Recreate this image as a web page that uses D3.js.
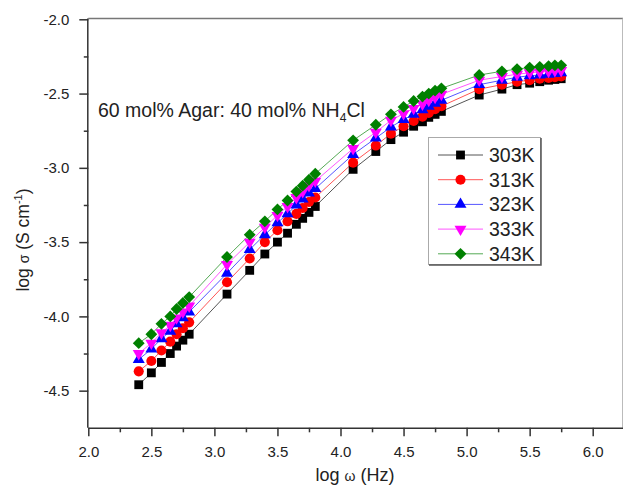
<!DOCTYPE html>
<html>
<head>
<meta charset="utf-8">
<script src="https://cdn.jsdelivr.net/npm/d3@7"></script>
<style>
  body { margin: 0; background: #fff; }
  svg { font-family: Arial, "Liberation Sans", sans-serif; }
</style>
</head>
<body>
<svg id="chart" width="624" height="488"></svg>
<script>
// log w values (Hz) shared by all series
const logW = [2.40, 2.50, 2.58, 2.65, 2.70, 2.75, 2.80,
  3.10, 3.28, 3.40, 3.50, 3.58, 3.65, 3.70, 3.75, 3.80,
  4.10, 4.28, 4.40, 4.50, 4.58, 4.65, 4.70, 4.75, 4.80,
  5.10, 5.28, 5.40, 5.50, 5.58, 5.65, 5.70, 5.75];

const s303 = [-4.46, -4.38, -4.31, -4.25, -4.20, -4.16, -4.12,
  -3.85, -3.69, -3.58, -3.50, -3.44, -3.38, -3.34, -3.30, -3.26,
  -3.01, -2.89, -2.81, -2.76, -2.72, -2.69, -2.66, -2.64, -2.62,
  -2.51, -2.47, -2.44, -2.43, -2.42, -2.41, -2.405, -2.40];
const s313 = [-4.37, -4.30, -4.23, -4.17, -4.12, -4.08, -4.04,
  -3.77, -3.61, -3.50, -3.42, -3.36, -3.31, -3.27, -3.23, -3.20,
  -2.965, -2.85, -2.77, -2.72, -2.685, -2.655, -2.63, -2.605, -2.585,
  -2.47, -2.44, -2.42, -2.41, -2.40, -2.395, -2.39, -2.385];
const s323 = [-4.29, -4.22, -4.15, -4.10, -4.05, -4.01, -3.97,
  -3.71, -3.55, -3.45, -3.37, -3.31, -3.25, -3.21, -3.17, -3.14,
  -2.91, -2.80, -2.725, -2.675, -2.64, -2.61, -2.585, -2.565, -2.545,
  -2.44, -2.41, -2.39, -2.38, -2.375, -2.37, -2.365, -2.36];
const s333 = [-4.25, -4.18, -4.11, -4.06, -4.01, -3.97, -3.93,
  -3.65, -3.50, -3.40, -3.32, -3.26, -3.20, -3.16, -3.12, -3.09,
  -2.87, -2.76, -2.68, -2.635, -2.60, -2.57, -2.545, -2.525, -2.505,
  -2.41, -2.385, -2.37, -2.36, -2.355, -2.35, -2.345, -2.345];
const s343 = [-4.18, -4.12, -4.05, -4.00, -3.95, -3.91, -3.87,
  -3.60, -3.45, -3.36, -3.28, -3.22, -3.16, -3.12, -3.08, -3.04,
  -2.815, -2.71, -2.64, -2.59, -2.55, -2.52, -2.50, -2.48, -2.465,
  -2.375, -2.35, -2.335, -2.325, -2.32, -2.315, -2.31, -2.31];

const seriesNames = ["303K", "313K", "323K", "333K", "343K"];
const xTicks = [2.0, 2.5, 3.0, 3.5, 4.0, 4.5, 5.0, 5.5, 6.0];
const yTicks = [-4.5, -4.0, -3.5, -3.0, -2.5, -2.0];

const series = [
  { name: seriesNames[0], values: s303, color: "#000000", line: "#555555", shape: "square" },
  { name: seriesNames[1], values: s313, color: "#ff0000", line: "#ff5555", shape: "circle" },
  { name: seriesNames[2], values: s323, color: "#0000ff", line: "#5555ff", shape: "up" },
  { name: seriesNames[3], values: s333, color: "#ff00ff", line: "#ff55ff", shape: "down" },
  { name: seriesNames[4], values: s343, color: "#008000", line: "#55aa55", shape: "diamond" }
];

const svg = d3.select("#chart");
const plotL = 88.3, plotR = 623, plotT = 18.5, plotB = 427.8;

const x = d3.scaleLinear().domain([2.0, 6.0]).range([plotL, 592.7]);
const y = d3.scaleLinear().domain([-4.75, -2.0]).range([plotB, 19.3]);
const fmt = d => d.toFixed(1); // plain hyphen minus, as in the figure

// frame (top and right)
svg.append("line").attr("x1", plotL).attr("x2", plotR).attr("y1", plotT).attr("y2", plotT)
  .attr("stroke", "#777").attr("stroke-width", 1.5);
svg.append("line").attr("x1", plotR - 0.5).attr("x2", plotR - 0.5).attr("y1", plotT).attr("y2", plotB)
  .attr("stroke", "#bbb").attr("stroke-width", 1);

// minor ticks
const xMinor = [2.25, 2.75, 3.25, 3.75, 4.25, 4.75, 5.25, 5.75];
const yMinor = [-4.25, -3.75, -3.25, -2.75, -2.25];
svg.append("g").attr("transform", `translate(0,${plotB})`)
  .call(d3.axisBottom(x).tickValues(xMinor).tickSize(4.5).tickFormat(""))
  .call(g => g.select(".domain").remove())
  .selectAll("line").attr("stroke", "#333").attr("stroke-width", 1.5);
svg.append("g").attr("transform", `translate(${plotL},0)`)
  .call(d3.axisLeft(y).tickValues(yMinor).tickSize(4.5).tickFormat(""))
  .call(g => g.select(".domain").remove())
  .selectAll("line").attr("stroke", "#333").attr("stroke-width", 1.5);

// major axes
const xAxis = svg.append("g").attr("transform", `translate(0,${plotB})`)
  .call(d3.axisBottom(x).tickValues(xTicks).tickSize(8.5).tickPadding(10).tickSizeOuter(0).tickFormat(fmt));
xAxis.select(".domain").attr("d", `M${plotL},0.5H${plotR}`).attr("stroke", "#333").attr("stroke-width", 1.5);
xAxis.selectAll("line").attr("stroke", "#333").attr("stroke-width", 1.5);
xAxis.selectAll("text").attr("font-size", 15).attr("fill", "#222").attr("font-family", "Arial, 'Liberation Sans', sans-serif");

const yAxis = svg.append("g").attr("transform", `translate(${plotL},0)`)
  .call(d3.axisLeft(y).tickValues(yTicks).tickSize(9).tickPadding(10).tickSizeOuter(0).tickFormat(fmt));
yAxis.select(".domain").attr("d", `M-0.5,${plotT}V${plotB}`).attr("stroke", "#333").attr("stroke-width", 1.5);
yAxis.selectAll("line").attr("stroke", "#333").attr("stroke-width", 1.5);
yAxis.selectAll("text").attr("font-size", 15).attr("fill", "#222").attr("font-family", "Arial, 'Liberation Sans', sans-serif");

// axis titles
const xt = svg.append("text").attr("x", 355).attr("y", 481).attr("text-anchor", "middle")
  .attr("font-size", 18).attr("fill", "#222");
xt.append("tspan").text("log ");
xt.append("tspan").attr("font-size", 14).text("ω");
xt.append("tspan").text(" (Hz)");

const yt = svg.append("text").attr("transform", "translate(29,240) rotate(-90)").attr("text-anchor", "middle")
  .attr("font-size", 17.5).attr("fill", "#222");
yt.append("tspan").text("log ");
yt.append("tspan").attr("font-size", 14).text("σ");
yt.append("tspan").text(" (S cm");
yt.append("tspan").attr("font-size", 11).attr("dy", -7).text("-1");
yt.append("tspan").attr("dy", 7).text(")");

// markers
function symbolFor(shape) {
  if (shape === "square") return d3.symbol(d3.symbolSquare, 78)();
  if (shape === "circle") return d3.symbol(d3.symbolCircle, 80)();
  if (shape === "up" || shape === "down") return d3.symbol(d3.symbolTriangle, 62)();
  return d3.symbol(d3.symbolSquare, 70)();
}
function rot(shape) {
  if (shape === "down") return " rotate(180)";
  if (shape === "diamond") return " rotate(45)";
  return "";
}

const line = d3.line().x((d, i) => x(logW[i])).y(d => y(d));

series.forEach(s => {
  svg.append("path").attr("d", line(s.values)).attr("fill", "none")
    .attr("stroke", s.line).attr("stroke-width", 1);
});
series.forEach(s => {
  svg.append("g").selectAll("path").data(s.values).join("path")
    .attr("d", symbolFor(s.shape))
    .attr("transform", (d, i) => `translate(${x(logW[i])},${y(d)})${rot(s.shape)}`)
    .attr("fill", s.color);
});

// annotation
const note = svg.append("text").attr("x", 98).attr("y", 117).attr("font-size", 19.5).attr("fill", "#222");
note.append("tspan").text("60 mol% Agar: 40 mol% NH");
note.append("tspan").attr("font-size", 12).attr("dy", 5).text("4");
note.append("tspan").attr("dy", -5).text("Cl");

// legend
const lg = svg.append("g");
lg.append("rect").attr("x", 428.5).attr("y", 137.5).attr("width", 112).attr("height", 127)
  .attr("fill", "#fff").attr("stroke", "#aaa").attr("stroke-width", 1);
lg.append("path").attr("d", "M541,138V265H429").attr("fill", "none").attr("stroke", "#555").attr("stroke-width", 1.5);
series.forEach((s, i) => {
  const ry = 155 + i * 24.7;
  lg.append("line").attr("x1", 438).attr("x2", 483).attr("y1", ry).attr("y2", ry)
    .attr("stroke", s.line).attr("stroke-width", 1);
  lg.append("path").attr("d", symbolFor(s.shape))
    .attr("transform", `translate(460.5,${ry})${rot(s.shape)}`).attr("fill", s.color);
  lg.append("text").attr("x", 489).attr("y", ry + 7).attr("font-size", 19.5).attr("fill", "#222").text(s.name);
});
</script>
</body>
</html>
